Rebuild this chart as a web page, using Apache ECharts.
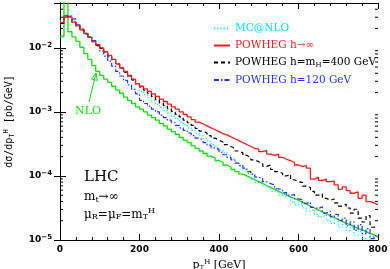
<!DOCTYPE html>
<html><head><meta charset="utf-8">
<script src="https://cdn.jsdelivr.net/npm/echarts@6/dist/echarts.min.js"></script>
<style>html,body{margin:0;padding:0;background:#fff}#c{width:390px;height:269px}</style>
</head><body><div id="c"></div>
<script>
// bins: 10 GeV wide, from 0 to 800 GeV
const binWidth = 10;
const xTicks = [0, 200, 400, 600, 800];
const yTickLabels = ['10^-5', '10^-4', '10^-3', '10^-2'];

const nlo = [1.5e-2,1.2e-1,1.78e-2,1.48e-2,1.26e-2,1.02e-2,8.13e-3,6.61e-3,5.25e-3,4.27e-3,
 3.72e-3,3.24e-3,2.88e-3,2.51e-3,2.19e-3,1.95e-3,1.70e-3,1.51e-3,1.35e-3,1.20e-3,
 1.10e-3,1.00e-3,8.91e-4,8.13e-4,7.41e-4,6.61e-4,6.03e-4,5.37e-4,4.90e-4,4.47e-4,
 3.98e-4,3.63e-4,3.31e-4,2.95e-4,2.69e-4,2.45e-4,2.24e-4,2.04e-4,1.91e-4,1.74e-4,
 1.62e-4,1.48e-4,1.38e-4,1.26e-4,1.17e-4,1.07e-4,1.00e-4,9.33e-5,8.71e-5,8.13e-5,
 7.59e-5,7.08e-5,6.61e-5,6.17e-5,5.75e-5,5.37e-5,5.01e-5,4.68e-5,4.47e-5,4.17e-5,
 3.89e-5,3.63e-5,3.39e-5,3.16e-5,2.95e-5,2.75e-5,2.57e-5,2.40e-5,2.24e-5,2.09e-5,
 1.95e-5,1.82e-5,1.74e-5,1.62e-5,1.51e-5,1.45e-5,1.35e-5,1.26e-5,1.20e-5,1.12e-5];

const powhegInf = [2.5e-2,3.16e-2,2.95e-2,2.51e-2,2.19e-2,1.91e-2,1.66e-2,1.45e-2,1.26e-2,1.12e-2,
 1.00e-2,8.71e-3,7.59e-3,6.61e-3,5.62e-3,4.90e-3,4.27e-3,3.72e-3,3.24e-3,2.75e-3,
 2.51e-3,2.29e-3,2.09e-3,1.91e-3,1.74e-3,1.58e-3,1.45e-3,1.32e-3,1.20e-3,1.10e-3,
 1.00e-3,9.12e-4,8.32e-4,7.59e-4,6.92e-4,6.46e-4,6.03e-4,5.62e-4,5.25e-4,4.90e-4,
 4.57e-4,4.37e-4,4.07e-4,3.80e-4,3.55e-4,3.31e-4,3.09e-4,2.88e-4,2.69e-4,2.63e-4,
 2.40e-4,2.51e-4,2.19e-4,2.09e-4,2.19e-4,1.95e-4,1.82e-4,1.74e-4,1.62e-4,1.48e-4,
 1.41e-4,1.45e-4,1.32e-4,8.91e-5,9.55e-5,8.51e-5,8.91e-5,8.13e-5,8.32e-5,7.24e-5,
 6.17e-5,6.76e-5,5.89e-5,5.37e-5,5.62e-5,4.47e-5,5.01e-5,3.98e-5,3.80e-5,3.55e-5];

const powheg400 = [2.4e-2,3.1e-2,3.0e-2,2.5e-2,2.2e-2,1.9e-2,1.65e-2,1.45e-2,1.25e-2,1.1e-2,
 9.8e-3,8.6e-3,7.5e-3,6.5e-3,5.6e-3,4.79e-3,4.17e-3,3.63e-3,3.16e-3,2.75e-3,
 2.45e-3,2.19e-3,1.95e-3,1.74e-3,1.55e-3,1.38e-3,1.26e-3,1.12e-3,1.02e-3,9.12e-4,
 8.32e-4,7.41e-4,6.76e-4,6.17e-4,5.50e-4,5.01e-4,4.68e-4,4.27e-4,3.89e-4,3.63e-4,
 3.39e-4,3.09e-4,2.88e-4,2.69e-4,2.45e-4,2.29e-4,2.09e-4,1.95e-4,1.78e-4,1.66e-4,
 1.58e-4,1.41e-4,1.48e-4,1.26e-4,1.17e-4,1.10e-4,1.00e-4,1.07e-4,8.71e-5,8.13e-5,
 7.94e-5,6.92e-5,6.61e-5,5.75e-5,5.01e-5,5.25e-5,4.47e-5,4.17e-5,4.37e-5,3.80e-5,
 3.39e-5,3.63e-5,3.16e-5,2.63e-5,3.02e-5,2.19e-5,1.91e-5,2.40e-5,1.58e-5,1.66e-5];

const powheg120 = [2.4e-2,3.0e-2,3.16e-2,2.82e-2,2.29e-2,1.95e-2,1.70e-2,1.48e-2,1.29e-2,1.07e-2,
 8.91e-3,7.41e-3,6.17e-3,5.13e-3,4.27e-3,3.63e-3,3.09e-3,2.63e-3,2.24e-3,1.91e-3,
 1.51e-3,1.35e-3,1.23e-3,1.10e-3,1.00e-3,8.91e-4,8.13e-4,7.41e-4,6.76e-4,6.17e-4,
 5.62e-4,5.13e-4,4.68e-4,4.27e-4,3.89e-4,3.63e-4,3.31e-4,3.02e-4,2.75e-4,2.57e-4,
 2.34e-4,2.14e-4,1.95e-4,1.78e-4,1.58e-4,1.45e-4,1.32e-4,1.17e-4,1.07e-4,9.55e-5,
 9.12e-5,8.13e-5,7.59e-5,7.24e-5,6.31e-5,6.03e-5,5.50e-5,5.01e-5,5.13e-5,4.37e-5,
 4.27e-5,3.72e-5,3.89e-5,3.24e-5,3.09e-5,3.31e-5,2.63e-5,2.82e-5,2.29e-5,2.51e-5,
 2.00e-5,2.19e-5,1.66e-5,1.91e-5,1.41e-5,1.74e-5,1.26e-5,1.51e-5,1.05e-5,1.17e-5];

const mcatnlo = [2.63e-2,3.31e-2,3.16e-2,2.63e-2,2.24e-2,1.95e-2,1.70e-2,1.48e-2,1.29e-2,1.12e-2,
 9.77e-3,8.51e-3,7.41e-3,6.46e-3,5.50e-3,4.79e-3,4.17e-3,3.55e-3,3.09e-3,2.69e-3,
 2.09e-3,1.86e-3,1.66e-3,1.48e-3,1.32e-3,1.17e-3,1.05e-3,9.55e-4,8.51e-4,7.76e-4,
 6.92e-4,6.31e-4,5.62e-4,5.13e-4,4.68e-4,4.27e-4,3.80e-4,3.47e-4,3.09e-4,2.82e-4,
 2.51e-4,2.29e-4,2.04e-4,1.82e-4,1.62e-4,1.45e-4,1.26e-4,1.10e-4,8.71e-5,7.94e-5,
 8.32e-5,6.92e-5,6.46e-5,5.75e-5,6.03e-5,5.01e-5,4.68e-5,4.90e-5,3.98e-5,3.55e-5,
 3.72e-5,3.16e-5,2.82e-5,3.02e-5,2.51e-5,2.29e-5,2.45e-5,2.00e-5,1.82e-5,2.09e-5,
 1.58e-5,1.74e-5,1.41e-5,1.58e-5,1.20e-5,1.38e-5,1.05e-5,8.9e-6,1.15e-5,7.9e-6];

const names = ['MC@NLO', 'POWHEG h→∞', 'POWHEG h=mH=400 GeV', 'POWHEG h=120 GeV', 'NLO'];
const colors = ['#00e5ff', '#ff1a1a', '#000000', '#2233ff', '#11dd11'];

function histData(vals) {
  const d = vals.map((v, i) => [i * binWidth, v]);
  d.push([vals.length * binWidth, vals[vals.length - 1]]);
  return d;
}

const minorVals = [];
for (let e = -5; e <= -2; e++) {
  for (let m = 2; m <= 9; m++) {
    const v = m * Math.pow(10, e);
    if (v < 0.05) minorVals.push(v);
  }
}

const chart = echarts.init(document.getElementById('c'), null, {renderer: 'canvas'});
const serifFont = '"DejaVu Serif", "Liberation Serif", serif';
const lblFmt = function (v) {
  const l = Math.log10(v), e = Math.round(l);
  if (Math.abs(l - e) > 1e-6) return '';
  return '{b|10}{p|−' + Math.abs(e) + '}';
};

function line(name, vals, color, type, width) {
  return {
    name: name, type: 'line', data: histData(vals), step: 'end', symbol: 'none', showSymbol: false,
    lineStyle: {color: color, width: width || 1.2, type: type},
    itemStyle: {color: color}, animation: false, clip: true
  };
}

chart.setOption({
  animation: false,
  grid: {left: 60, right: 12, top: 3, bottom: 29, outerBoundsMode: 'none', containLabel: false},
  xAxis: [{
    type: 'value', min: 0, max: 800, interval: 200, position: 'bottom',
    axisLine: {lineStyle: {color: '#000', width: 1}},
    axisTick: {inside: true, length: 6, lineStyle: {color: '#000'}},
    minorTick: {show: true, splitNumber: 5, length: 3, lineStyle: {color: '#000'}},
    splitLine: {show: false},
    axisLabel: {fontSize: 9, fontWeight: 'bold', color: '#000', fontFamily: '"DejaVu Sans", sans-serif', margin: 5},
    name: '{a|p}{s|T}{u|H} {a|[GeV]}', nameLocation: 'middle', nameGap: 14,
    nameTextStyle: {color: '#000', fontFamily: serifFont, fontSize: 11,
      rich: {a: {fontSize: 11, fontFamily: serifFont}, s: {fontSize: 7, fontFamily: serifFont, padding: [6, 0, 0, 0]}, u: {fontSize: 7, fontFamily: serifFont, padding: [0, 0, 6, 0]}}}
  }, {
    type: 'value', min: 0, max: 800, interval: 200, position: 'top',
    axisLine: {lineStyle: {color: '#000', width: 1}},
    axisTick: {inside: true, length: 6, lineStyle: {color: '#000'}},
    minorTick: {show: true, splitNumber: 5, length: 3, lineStyle: {color: '#000'}},
    splitLine: {show: false}, axisLabel: {show: false}
  }],
  yAxis: [{
    type: 'log', min: 1e-5, max: 0.05, interval: 1, position: 'left', logBase: 10,
    axisLine: {lineStyle: {color: '#000', width: 1}},
    axisTick: {inside: true, length: 6, lineStyle: {color: '#000'}},
    splitLine: {show: false},
    axisLabel: {formatter: lblFmt, color: '#000', margin: 8,
      rich: {b: {fontSize: 9, fontWeight: 'bold', fontFamily: '"DejaVu Sans", sans-serif'},
             p: {fontSize: 7, fontWeight: 'bold', fontFamily: '"DejaVu Sans", sans-serif', padding: [0, 0, 6, 0]}}},
    name: '{a|dσ/dp}{s|T}{u|H} {a|[pb/GeV]}', nameLocation: 'middle', nameGap: 44, nameRotate: 90,
    nameTextStyle: {color: '#000', fontFamily: '"DejaVu Sans Mono", monospace', fontSize: 10,
      rich: {a: {fontSize: 10, fontFamily: '"DejaVu Sans Mono", monospace'}, s: {fontSize: 7, padding: [6, 0, 0, 0]}, u: {fontSize: 7, padding: [0, 0, 6, 0]}}}
  }, {
    type: 'log', min: 1e-5, max: 0.05, interval: 1, position: 'right', logBase: 10,
    axisLine: {lineStyle: {color: '#000', width: 1}},
    axisTick: {inside: true, length: 6, lineStyle: {color: '#000'}},
    splitLine: {show: false}, axisLabel: {show: false}
  }],
  legend: {
    orient: 'vertical', left: 208, top: 18, itemWidth: 16, itemHeight: 11, itemGap: 6, align: 'left',
    itemStyle: {opacity: 0, borderWidth: 0},
    data: [
      {name: names[0], textStyle: {color: colors[0]}},
      {name: names[1], textStyle: {color: colors[1]}},
      {name: names[2], textStyle: {color: colors[2]}},
      {name: names[3], textStyle: {color: colors[3]}}
    ],
    formatter: function (n) {
      if (n === names[2]) return 'POWHEG h=m{s|H}=400 GeV';
      return n;
    },
    textStyle: {fontFamily: serifFont, fontSize: 10.5,
      rich: {s: {fontSize: 7, fontFamily: serifFont, padding: [5, 0, 0, 0]}}}
  },
  series: [
    line(names[4], nlo, colors[4], 'solid', 1.3),
    line(names[0], mcatnlo, colors[0], [1.2, 2]),
    line(names[3], powheg120, colors[3], [5, 2, 1.5, 2]),
    line(names[2], powheg400, colors[2], [4, 3]),
    line(names[1], powhegInf, colors[1], 'solid', 1.3),
    {
      type: 'custom', name: 'minorTicks', silent: true, clip: false, z: 5,
      data: minorVals.map(v => [0, v]),
      renderItem: function (params, api) {
        const v = api.value(1);
        const l = api.coord([0, v]);
        const r = api.coord([800, v]);
        return {type: 'group', children: [
          {type: 'line', shape: {x1: l[0], y1: l[1], x2: l[0] + 3, y2: l[1]}, style: {stroke: '#000', lineWidth: 1}},
          {type: 'line', shape: {x1: r[0] - 3, y1: r[1], x2: r[0], y2: r[1]}, style: {stroke: '#000', lineWidth: 1}}
        ]};
      }
    }
  ],
  graphic: [
    {type: 'text', left: 84, top: 170, style: {text: 'LHC', font: '15px ' + serifFont, fill: '#000'}},
    {type: 'text', left: 84, top: 191, style: {text: 'm{s|t}→∞', font: '12px ' + serifFont, fill: '#000',
      rich: {s: {fontSize: 8, fontFamily: serifFont, padding: [5, 0, 0, 0]}}}},
    {type: 'text', left: 84, top: 207, style: {text: 'μ{s|R}=μ{s|F}=m{s|T}{u|H}', font: '12px ' + serifFont, fill: '#000',
      rich: {s: {fontSize: 8, fontFamily: serifFont, padding: [5, 0, 0, 0]}, u: {fontSize: 8, fontFamily: serifFont, padding: [0, 0, 7, 0]}}}},
    {type: 'text', left: 75, top: 106, style: {text: 'NLO', font: '11px ' + serifFont, fill: colors[4]}},
    {type: 'line', shape: {x1: 89, y1: 102, x2: 96, y2: 73}, style: {stroke: colors[4], lineWidth: 1}},
    {type: 'polygon', shape: {points: [[96, 73], [97.3, 80.5], [91.5, 79.1]]}, style: {stroke: colors[4], fill: 'none', lineWidth: 1}}
  ]
});
</script></body></html>
